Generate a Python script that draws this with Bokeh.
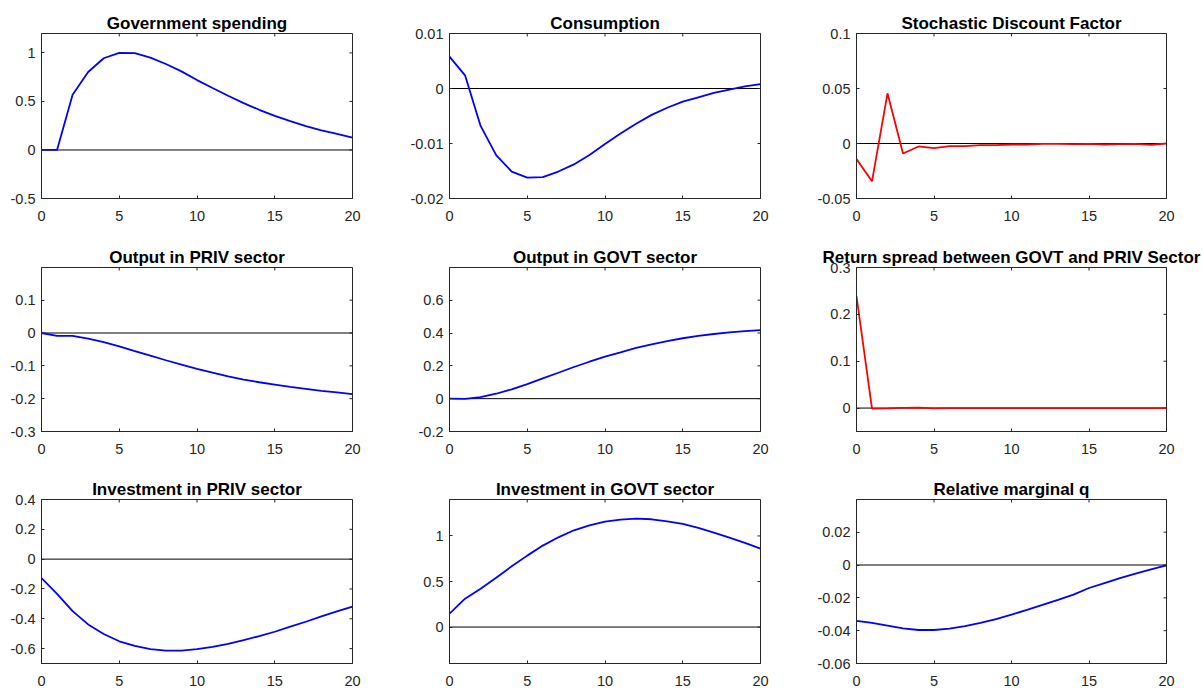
import math
from bokeh.plotting import figure
from bokeh.layouts import column, row
from bokeh.models import Range1d, FixedTicker, Span, CustomJSTickFormatter
from bokeh.embed import file_html
from bokeh.resources import INLINE

# ---------------- data ----------------
steps = list(range(21))

gov_spending = [0.0, 0.0, 0.569, 0.803, 0.945, 1.0, 0.997, 0.952, 0.886, 0.81, 0.72,
                0.638, 0.559, 0.483, 0.414, 0.352, 0.297, 0.245, 0.203, 0.166, 0.128]
consumption = [0.0058, 0.0024, -0.0068, -0.0121, -0.0151, -0.0162, -0.0161, -0.0151,
               -0.0138, -0.0121, -0.0101, -0.0082, -0.0064, -0.0048, -0.0035, -0.0024,
               -0.0016, -0.0008, -0.0002, 0.0004, 0.0008]
sdf = [-0.0142, -0.0344, 0.0456, -0.0091, -0.0027, -0.0042, -0.0024, -0.0024, -0.0015,
       -0.0015, -0.0009, -0.0009, -0.0003, -0.0003, -0.0006, -0.0003, -0.0009, -0.0006,
       -0.0003, -0.0012, 0.0]
output_priv = [0.0, -0.009, -0.009, -0.017, -0.028, -0.041, -0.055, -0.069, -0.083,
               -0.096, -0.109, -0.121, -0.132, -0.142, -0.150, -0.157, -0.164, -0.170,
               -0.176, -0.181, -0.186]
output_govt = [0.0, -0.001, 0.01, 0.03, 0.057, 0.089, 0.124, 0.158, 0.193, 0.225, 0.256,
               0.282, 0.309, 0.331, 0.351, 0.368, 0.382, 0.394, 0.404, 0.412, 0.418]
return_spread = [0.239, -0.001, -0.0005, 0.0005, 0.001, -0.0005, 0.0, 0.0, 0.0, 0.0, 0.0,
                 0.0, 0.0, 0.0, 0.0, 0.0, 0.0, 0.0, 0.0, 0.0, 0.0]
invest_priv = [-0.127, -0.233, -0.349, -0.438, -0.502, -0.551, -0.582, -0.604, -0.613,
               -0.613, -0.604, -0.589, -0.569, -0.544, -0.516, -0.487, -0.453, -0.42,
               -0.384, -0.351, -0.318]
invest_govt = [0.147, 0.311, 0.421, 0.542, 0.667, 0.784, 0.894, 0.985, 1.062, 1.117, 1.158,
               1.179, 1.19, 1.183, 1.161, 1.132, 1.088, 1.037, 0.982, 0.923, 0.861]
relative_q = [-0.0341, -0.0353, -0.0369, -0.0386, -0.0396, -0.0396, -0.0388, -0.0373,
              -0.0353, -0.0329, -0.0302, -0.0273, -0.0243, -0.0212, -0.018, -0.014,
              -0.011, -0.008, -0.0053, -0.0027, -0.0002]

titles = ["Government spending", "Consumption", "Stochastic Discount Factor",
          "Output in PRIV sector", "Output in GOVT sector",
          "Return spread between GOVT and PRIV Sector",
          "Investment in PRIV sector", "Investment in GOVT sector", "Relative marginal q"]
series = [gov_spending, consumption, sdf, output_priv, output_govt, return_spread,
          invest_priv, invest_govt, relative_q]
line_colors = ["#0000FF", "#0000FF", "#FF0000", "#0000FF", "#0000FF", "#FF0000",
               "#0000FF", "#0000FF", "#0000FF"]
y_limits = [(-0.5, 1.2), (-0.02, 0.01), (-0.05, 0.1),
            (-0.3, 0.1995), (-0.2, 0.799), (-0.05, 0.3),
            (-0.7, 0.4), (-0.4, 1.4), (-0.06, 0.0399)]
y_ticks = [[-0.5, 0, 0.5, 1], [-0.02, -0.01, 0, 0.01], [-0.05, 0, 0.05, 0.1],
           [-0.3, -0.2, -0.1, 0, 0.1], [-0.2, 0, 0.2, 0.4, 0.6], [0, 0.1, 0.2, 0.3],
           [-0.6, -0.4, -0.2, 0, 0.2, 0.4], [0, 0.5, 1], [-0.06, -0.04, -0.02, 0, 0.02]]
x_ticks = [0, 5, 10, 15, 20]

# ---------------- layout / style ----------------
AX = "#262626"
FONT = "Liberation Sans"
col_geom = [(400, 41, 48), (407, 49, 47), (395, 49, 36)]   # width, left, right
row_geom = [(234, 33, 36), (232, 33, 35), (222, 33, 25)]   # height, top, bottom


def style_axis(ax, standoff):
    ax.axis_line_color = AX
    ax.axis_line_width = 1
    ax.major_tick_line_color = AX
    ax.major_tick_in = 3
    ax.major_tick_out = 0
    ax.minor_tick_line_color = None
    ax.major_label_text_font = FONT
    ax.major_label_text_font_size = "14.5px"
    ax.major_label_text_color = AX
    ax.major_label_standoff = standoff


rows = []
for r in range(3):
    figs = []
    for c in range(3):
        i = r * 3 + c
        w, bl, br = col_geom[c]
        h, bt, bb = row_geom[r]
        lo, hi = y_limits[i]
        p = figure(width=w, height=h, x_range=Range1d(0, 20), y_range=Range1d(lo, hi),
                   output_backend="svg", toolbar_location=None,
                   min_border_left=bl, min_border_right=br,
                   min_border_top=bt, min_border_bottom=bb)
        p.title.text = titles[i]
        p.title.align = "center"
        p.title.text_font = FONT
        p.title.text_font_style = "bold"
        p.title.text_font_size = "17px"
        p.title.text_color = "#000000"
        p.title.standoff = 2
        p.xgrid.visible = False
        p.ygrid.visible = False
        p.outline_line_color = AX
        p.outline_line_width = 1
        p.background_fill_color = "white"
        p.border_fill_color = "white"

        p.xaxis.ticker = FixedTicker(ticks=x_ticks)
        p.yaxis.ticker = FixedTicker(ticks=y_ticks[i])
        p.yaxis.formatter = CustomJSTickFormatter(code="return String(tick);")
        style_axis(p.xaxis[0], 12)
        style_axis(p.yaxis[0], 6)

        # inward ticks on the top and right edges of the box
        p.ray(x=x_ticks, y=[hi] * len(x_ticks), length=3, length_units="screen",
              angle=-math.pi / 2, line_color=AX, line_width=1)
        p.ray(x=[20] * len(y_ticks[i]), y=y_ticks[i], length=3, length_units="screen",
              angle=math.pi, line_color=AX, line_width=1)

        zero = Span(location=0, dimension="width", line_color="black", line_width=1,
                    level="underlay")
        p.add_layout(zero)
        p.line(steps, series[i], line_color=line_colors[i], line_width=1.8)
        figs.append(p)
    rows.append(row(*figs))

layout = column(*rows)
open("out.html", "w").write(file_html(layout, INLINE))
